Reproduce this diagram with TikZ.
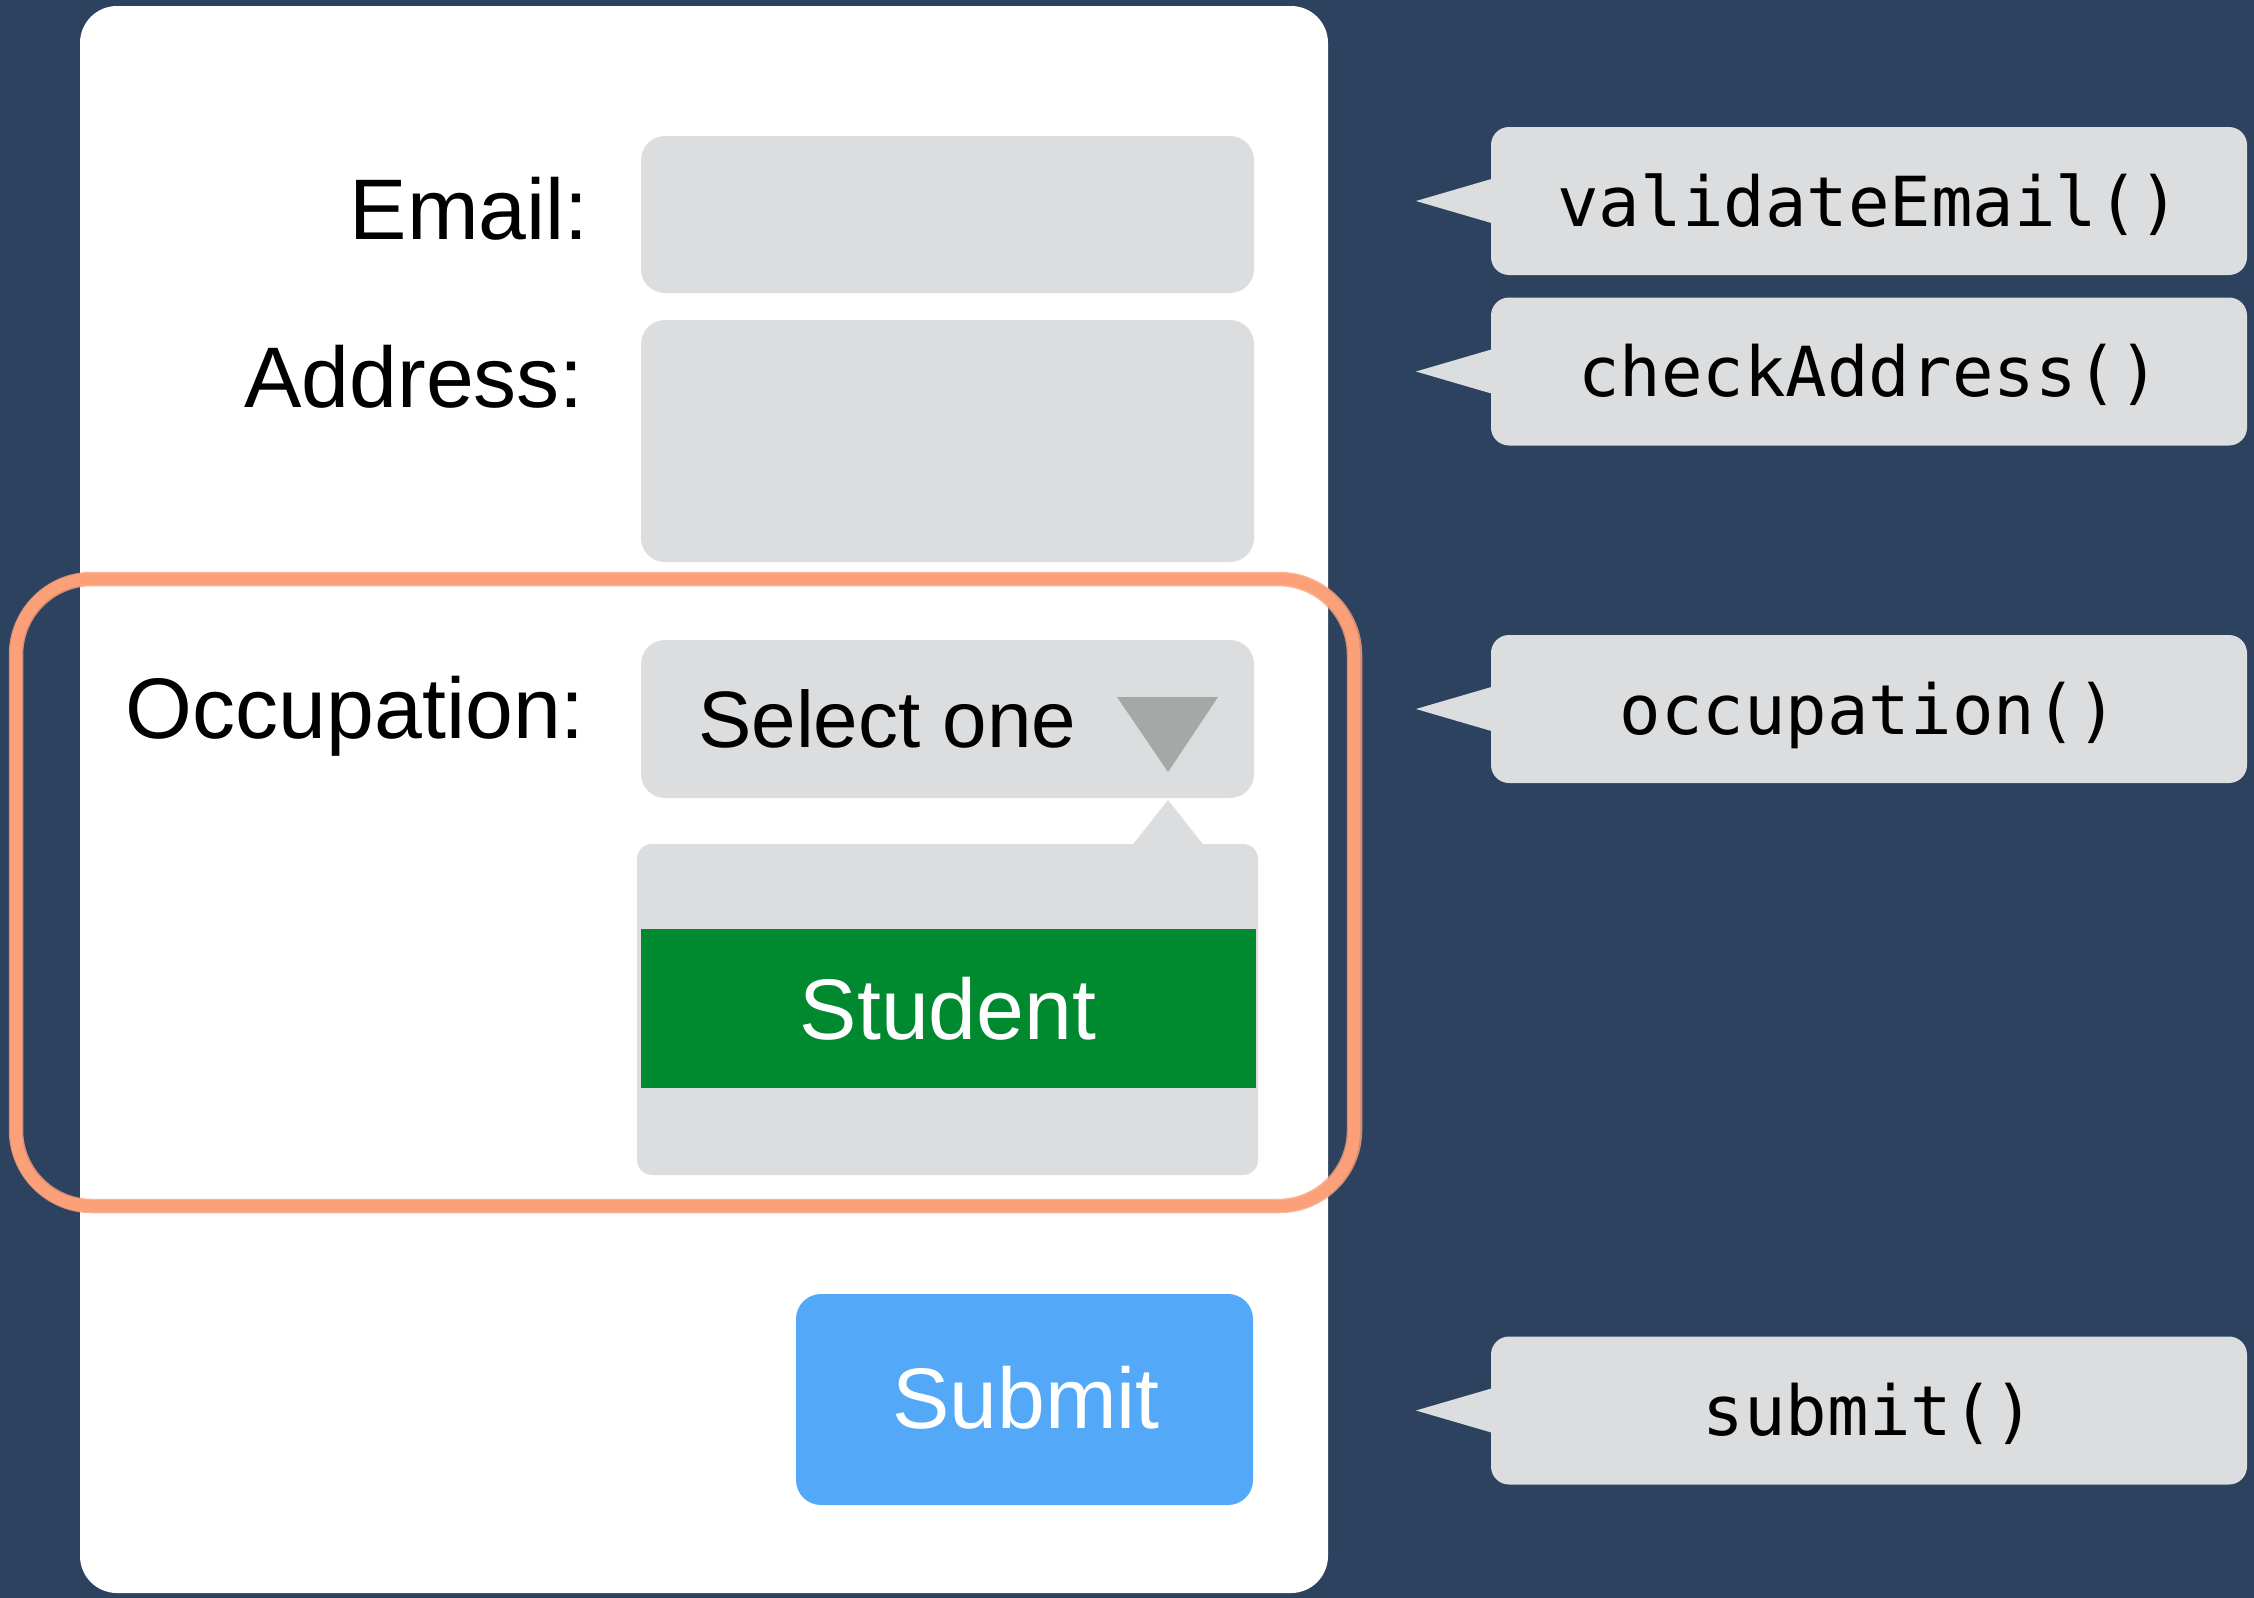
\documentclass[tikz,border=0pt]{standalone}
\usepackage{fontspec}
\setmainfont{Liberation Sans}
\newfontfamily\codefont{DejaVu Sans Mono}

\definecolor{navy}{RGB}{45,66,94}
\definecolor{fieldgray}{RGB}{220,221,223}
\definecolor{arrowgray}{RGB}{165,168,167}
\definecolor{pickgreen}{RGB}{0,137,46}
\definecolor{btnblue}{RGB}{83,168,248}
\definecolor{brush}{RGB}{252,160,122}

\tikzset{
  field/.style={fill=fieldgray, rounded corners=24pt, inner sep=0pt},
  formtext/.style={inner sep=0pt, font=\fontsize{86pt}{100pt}\selectfont},
  whitetext/.style={formtext, text=white},
  callout/.style={fill=fieldgray, rounded corners=18pt, minimum width=756pt,
    minimum height=148pt, inner sep=0pt,
    font=\codefont\fontsize{69pt}{80pt}\selectfont,
    text height=50pt, text depth=0pt},
  tipfill/.style={fill=fieldgray},
  brushline/.style={draw=brush, line cap=round, line join=round},
}

\begin{document}
\begin{tikzpicture}[x=1pt, y=-1pt]
  % page background
  \fill[navy] (0,0) rectangle (2254,1598);
  \useasboundingbox (0,0) rectangle (2254,1598);

  % form card
  \node[fill=white, rounded corners=37pt, minimum width=1248pt,
        minimum height=1587pt, inner sep=0pt] (card) at (704,799.5) {};

  % labels
  \node[formtext, anchor=base east] (emaillbl) at (589,239) {Email:};
  \node[formtext, anchor=base east] (addrlbl) at (584,407) {Address:};
  \node[formtext, anchor=base east] (occlbl) at (585,738) {Occupation:};

  % input fields
  \node[field, minimum width=613pt, minimum height=157pt] (emailbox) at (947.5,214.5) {};
  \node[field, minimum width=613pt, minimum height=242pt] (addrbox) at (947.5,441) {};
  \node[field, minimum width=613pt, minimum height=158pt] (selectbox) at (947.5,719) {};
  \node[formtext, anchor=base west, font=\fontsize{80pt}{92pt}\selectfont]
        (selecttxt) at (698,747) {Select one};

  % dropdown arrow
  \coordinate (arrL) at (1117,697);
  \coordinate (arrR) at (1218,697);
  \coordinate (arrB) at (1168,772);
  \fill[arrowgray] (arrL) -- (arrR) -- (arrB) -- cycle;

  % open list with its pointer
  \node[fill=fieldgray, rounded corners=15pt, minimum width=621pt,
        minimum height=331pt, inner sep=0pt] (listbox) at (947.5,1009.5) {};
  \coordinate (ptrTop) at (1168,800);
  \fill[tipfill] (ptrTop) -- ([xshift=183.5pt,yshift=-3pt]listbox.north) --
        ([xshift=257.5pt,yshift=-3pt]listbox.north) -- cycle;
  \node[fill=pickgreen, minimum width=615pt, minimum height=159pt,
        inner sep=0pt] (student) at (948.5,1008.5) {};
  \node[whitetext, anchor=base] (studenttxt) at (948,1039) {Student};

  % submit button
  \node[fill=btnblue, rounded corners=25pt, minimum width=457pt,
        minimum height=211pt, inner sep=0pt] (submitbtn) at (1024.5,1399.5) {};
  \node[whitetext, anchor=base] (submittxt) at (1026,1428) {Submit};

  % brush highlight around the occupation group
  \draw[brushline, line width=12pt, rounded corners=75pt]
        (16,579) rectangle (1354,1206);
  \draw[brushline, line width=2.5pt, opacity=.8, rounded corners=82pt]
        (10,573) rectangle (1361,1212);
  \draw[brushline, line width=2.5pt, opacity=.8, rounded corners=70pt]
        (22,585) rectangle (1348,1200);
  \draw[brushline, line width=1.5pt, opacity=.6, rounded corners=78pt]
        (12,576) rectangle (1358,1210);

  % handler callouts
  \node[callout] (cb1) at (1869,201) {validateEmail()};
  \node[callout] (cb2) at (1869,371.5) {checkAddress()};
  \node[callout] (cb3) at (1869,709) {occupation()};
  \node[callout] (cb4) at (1869,1410.5) {submit()};

  \coordinate (tip1) at (1416,201);
  \coordinate (tip2) at (1416,371.5);
  \coordinate (tip3) at (1416,709);
  \coordinate (tip4) at (1416,1410.5);
  \foreach \i in {1,2,3,4}{
    \fill[tipfill] (tip\i) -- ([xshift=4pt,yshift=23pt]cb\i.west) --
          ([xshift=4pt,yshift=-23pt]cb\i.west) -- cycle;
  }
\end{tikzpicture}
\end{document}
